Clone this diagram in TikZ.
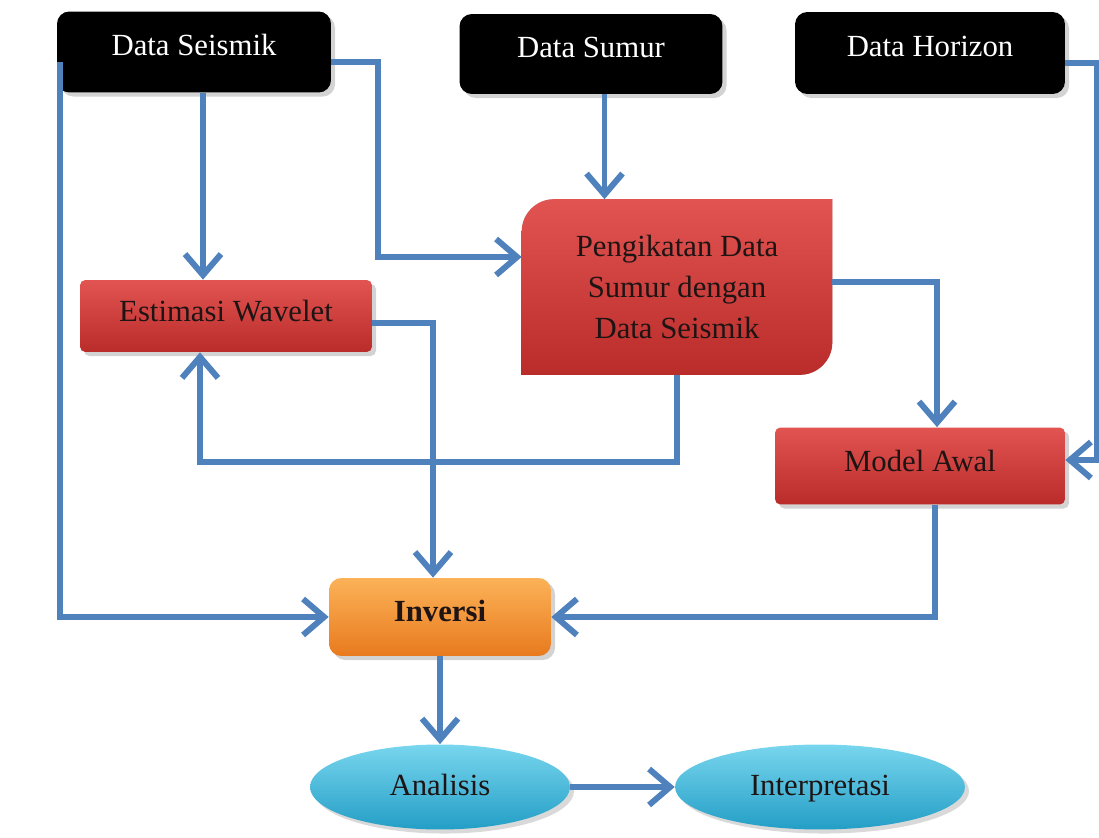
\documentclass[tikz,border=0pt]{standalone}
\usepackage{fontspec}
\setmainfont{Liberation Serif}
\usetikzlibrary{arrows.meta,shapes.geometric,shadows,backgrounds}
\definecolor{garis}{RGB}{79,129,189}
\definecolor{merahA}{RGB}{226,84,82}
\definecolor{merahB}{RGB}{186,44,42}
\definecolor{oranyeA}{RGB}{252,178,88}
\definecolor{oranyeB}{RGB}{232,122,30}
\definecolor{biruA}{RGB}{120,214,238}
\definecolor{biruB}{RGB}{36,158,198}
\definecolor{teks}{RGB}{30,20,20}
\begin{document}
\begin{tikzpicture}[x=0.02cm, y=0.02cm, >={Straight Barb[length=0.42cm,width=0.72cm]},
  huruf/.style={font=\fontsize{17.5}{23.5}\selectfont},
  kotakhitam/.style={huruf, rounded corners=7pt, fill=black, text=white, inner sep=0pt,
    text depth=0.28cm, drop shadow={opacity=0.35}},
  kotakmerah/.style={huruf, rounded corners=3pt, top color=merahA, bottom color=merahB,
    text=teks, inner sep=0pt, text depth=0.22cm, drop shadow={opacity=0.35}},
  elips/.style={huruf, ellipse, top color=biruA, bottom color=biruB, text=teks,
    inner sep=0pt, text height=0.44cm, text depth=0.12cm,
    minimum width=5.2cm, minimum height=1.7cm, drop shadow={opacity=0.3}},
  panah/.style={->, draw=garis, line width=3.4pt}]
\useasboundingbox (0,0) rectangle (1099,-838);
\node[kotakhitam, minimum width=5.48cm, minimum height=1.62cm](seis) at (194,-52){Data Seismik};
\node[kotakhitam, minimum width=5.26cm, minimum height=1.6cm](sumur) at (591,-54){Data Sumur};
\node[kotakhitam, minimum width=5.4cm, minimum height=1.64cm](horizon) at (930,-53){Data Horizon};
\node[huruf, minimum width=6.2cm, minimum height=3.5cm, align=center, text=teks](ikat) at (677,-287)
  {Pengikatan Data\\Sumur dengan\\Data Seismik};
\begin{pgfonlayer}{background}
\fill[black, opacity=0.3, shift={(0.08cm,-0.08cm)}] (ikat.south west) -- ([yshift=-0.65cm]ikat.north west)
  arc[start angle=180, end angle=90, radius=0.65cm] -- (ikat.north east) -- ([yshift=0.65cm]ikat.south east)
  arc[start angle=0, end angle=-90, radius=0.65cm] -- cycle;
\shade[top color=merahA, bottom color=merahB] (ikat.south west) -- ([yshift=-0.65cm]ikat.north west)
  arc[start angle=180, end angle=90, radius=0.65cm] -- (ikat.north east) -- ([yshift=0.65cm]ikat.south east)
  arc[start angle=0, end angle=-90, radius=0.65cm] -- cycle;
\end{pgfonlayer}
\node[kotakmerah, minimum width=5.84cm, minimum height=1.44cm](wave) at (226,-316){Estimasi Wavelet};
\node[kotakmerah, minimum width=5.8cm, minimum height=1.54cm](awal) at (920,-466){Model Awal};
\node[huruf, rounded corners=7pt, top color=oranyeA, bottom color=oranyeB, text=teks, inner sep=0pt,
  text depth=0.26cm, minimum width=4.44cm, minimum height=1.56cm, drop shadow={opacity=0.35}]
  (inv) at (440,-617){\textbf{Inversi}};
\node[elips](anal) at (440,-787){Analisis};
\node[elips, minimum width=5.8cm](interp) at (820,-787){Interpretasi};
% dari data seismik
\draw[panah]([xshift=0.18cm]seis.south)--([xshift=0.18cm]seis.south |- wave.north);
\draw[panah]([yshift=-0.2cm]seis.east)--++(47,0)|-([yshift=0.6cm]ikat.west);
\draw[panah]([xshift=0.06cm,yshift=-0.2cm]seis.west)|-(inv.west);
% dari data sumur dan horizon
\draw[panah]([xshift=0.27cm]sumur.south)--([xshift=0.27cm]sumur.south |- ikat.north);
\draw[panah]([yshift=-0.2cm]horizon.east)--++(32,0)|-([yshift=0.12cm]awal.east);
% pengikatan
\draw[panah]([yshift=0.1cm]ikat.east)-|([xshift=0.34cm]awal.north);
\draw[panah](ikat.south)--++(0,-87)-|([xshift=-0.52cm]wave.south);
% ke inversi
\draw[panah]([yshift=-0.14cm]wave.east)-|([xshift=-0.14cm]inv.north);
\draw[panah]([xshift=0.3cm]awal.south)|-(inv.east);
\draw[panah](inv.south)--(anal.north);
\draw[panah](anal.east)--(interp.west);
\end{tikzpicture}
\end{document}
